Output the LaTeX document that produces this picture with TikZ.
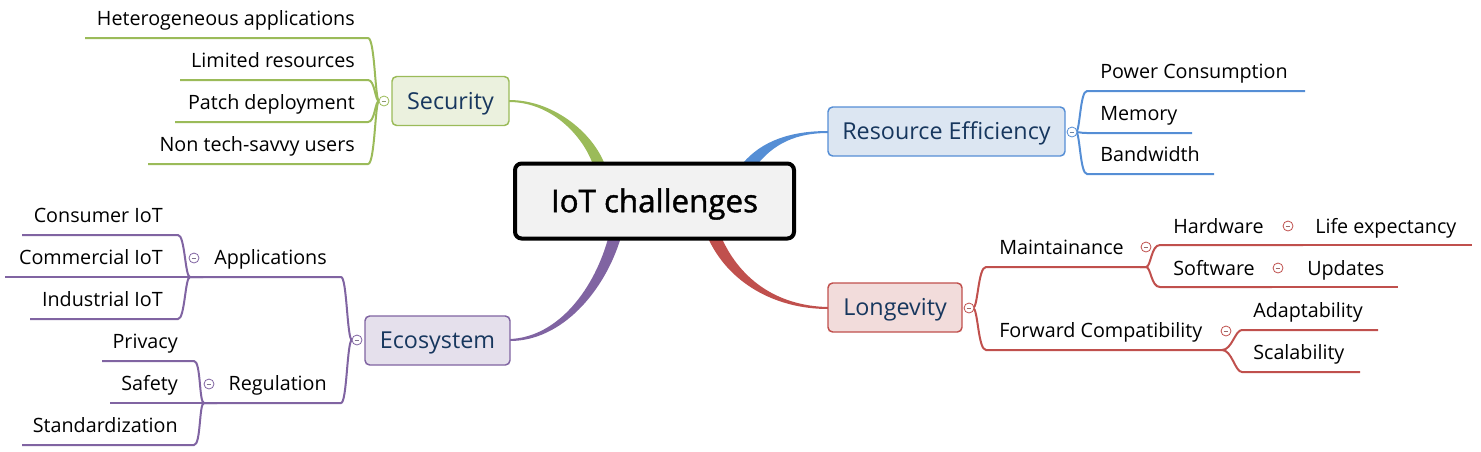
\documentclass[tikz,border=0pt]{standalone}
\usepackage{fontspec}
\setmainfont{Open Sans}
\newfontfamily\rootfont[FakeBold=1.3]{Open Sans}
\definecolor{gline}{HTML}{9BBB59}
\definecolor{gfill}{HTML}{EBF1DE}
\definecolor{bline}{HTML}{558ED5}
\definecolor{bfill}{HTML}{DCE6F2}
\definecolor{rline}{HTML}{C0504D}
\definecolor{rfill}{HTML}{F2DCDB}
\definecolor{pline}{HTML}{8064A2}
\definecolor{pfill}{HTML}{E5E0EC}
\definecolor{navy}{HTML}{17375E}
\definecolor{cfill}{HTML}{F2F2F2}
\tikzset{
 subtxt/.style={inner sep=0pt, font=\fontsize{14.8}{17}\selectfont},
 lt/.style={subtxt, anchor=base east},
 rt/.style={subtxt, anchor=base west},
 topic/.style={draw=#1line, fill=#1fill, line width=1.1pt, rounded corners=3.5pt, text=navy,
   font=\fontsize{17.5}{21}\selectfont, inner sep=0pt, text height=12.5pt, text depth=0pt,
   minimum height=49*0.75pt},
 br/.style={draw=#1, line width=1.5pt},
 tog/.style={circle, draw=#1, fill=white, line width=0.6pt, minimum size=7.5pt, inner sep=0pt,
   path picture={\draw[line width=0.6pt, color=#1!45!gray]
     ([xshift=-1.8pt]path picture bounding box.center) -- ([xshift=1.8pt]path picture bounding box.center);}},
}
\begin{document}
\begin{tikzpicture}[x=0.75pt,y=-0.75pt]
\useasboundingbox (0,0) rectangle (1481,451);

% ---------- thick main connectors ----------
\fill[gline] (509,100) .. controls (556,100) and (596,136) .. (606,168) -- (594,168)
   .. controls (586,140) and (554,102) .. (509,102) -- cycle;
\fill[bline] (828,131) .. controls (790,131) and (762,141) .. (743,163) -- (753,170)
   .. controls (769,148) and (790,133) .. (828,133) -- cycle;
\fill[rline] (828,307) .. controls (776,306) and (738,278) .. (720,234) -- (708,238)
   .. controls (728,282) and (774,309) .. (828,309) -- cycle;
\fill[pline] (510,339) .. controls (558,337) and (595,289) .. (609,235) -- (621,237)
   .. controls (605,291) and (562,341) .. (510,341) -- cycle;

% ---------- central topic ----------
\node[draw=black, line width=3pt, fill=cfill, rounded corners=5pt,
      minimum width=279*0.75pt, minimum height=75*0.75pt, inner sep=0pt,
      text height=16.8pt, text depth=0pt,
      font=\rootfont\fontsize{23.5}{28}\selectfont] (root) at (654.5,201) {IoT challenges};

% ---------- main topics ----------
\node[topic=g, minimum width=117*0.75pt] (sec) at (450.5,101) {Security};
\node[topic=b, minimum width=237*0.75pt] (res) at (946.5,131.5) {Resource Efficiency};
\node[topic=r, minimum width=134*0.75pt] (lon) at (895,307.5) {Longevity};
\node[topic=p, minimum width=145*0.75pt] (eco) at (437.5,340.5) {Ecosystem};

% ---------- Security ----------
\node[lt] (het) at (355,25) {Heterogeneous applications};
\node[lt] (lim) at (355,67) {Limited resources};
\node[lt] (pat) at (355,109) {Patch deployment};
\node[lt] (non) at (355,151) {Non tech-savvy users};
\coordinate (secJ) at (379,101);
\coordinate (hetA) at (368,38);  \coordinate (hetB) at (85,38);
\coordinate (limA) at (368,80);  \coordinate (limB) at (180,80);
\coordinate (patA) at (368,122); \coordinate (patB) at (175,122);
\coordinate (nonA) at (368,164); \coordinate (nonB) at (148,164);
\draw[br=gline] (secJ) .. controls +(-4,0) and +(7,0) .. (hetA) -- (hetB);
\draw[br=gline] (secJ) .. controls +(-4,0) and +(7,0) .. (limA) -- (limB);
\draw[br=gline] (secJ) .. controls +(-4,0) and +(7,0) .. (patA) -- (patB);
\draw[br=gline] (secJ) .. controls +(-4,0) and +(7,0) .. (nonA) -- (nonB);
\node[tog=gline] (secT) at (384,101) {};

% ---------- Resource Efficiency ----------
\node[rt] (pow) at (1100,78) {Power Consumption};
\node[rt] (mem) at (1100,120) {Memory};
\node[rt] (ban) at (1100,161) {Bandwidth};
\coordinate (resJ) at (1076,132);
\coordinate (powA) at (1087,91);  \coordinate (powB) at (1305,91);
\coordinate (memA) at (1087,133); \coordinate (memB) at (1192,133);
\coordinate (banA) at (1087,174); \coordinate (banB) at (1214,174);
\draw[br=bline] (resJ) .. controls +(4,0) and +(-7,0) .. (powA) -- (powB);
\draw[br=bline] (resJ) .. controls +(4,0) and +(-7,0) .. (memA) -- (memB);
\draw[br=bline] (resJ) .. controls +(4,0) and +(-7,0) .. (banA) -- (banB);
\node[tog=bline] (resT) at (1072,132) {};

% ---------- Longevity ----------
\node[rt] (mai) at (999,254) {Maintainance};
\node[rt] (fwd) at (999,337) {Forward Compatibility};
\coordinate (lonJ) at (973,308);
\coordinate (maiA) at (986,267); \coordinate (maiB) at (1140,267);
\coordinate (fwdA) at (986,350); \coordinate (fwdB) at (1222,350);
\draw[br=rline] (lonJ) .. controls +(5,0) and +(-8,0) .. (maiA) -- (maiB);
\draw[br=rline] (lonJ) .. controls +(5,0) and +(-8,0) .. (fwdA) -- (fwdB);
\node[tog=rline] (lonT) at (969,308) {};

\node[rt] (hw) at (1173,233) {Hardware};
\node[rt] (sw) at (1173,275) {Software};
\node[rt] (life) at (1315,233) {Life expectancy};
\node[rt] (upd) at (1307,275) {Updates};
\coordinate (hwA) at (1160,245); \coordinate (hwB) at (1303,245);
\coordinate (swA) at (1160,287); \coordinate (swB) at (1272,287);
\coordinate (lifeB) at (1472,245);
\coordinate (updB) at (1398,287);
\draw[br=rline] (maiB) -- ++(6,0) .. controls +(5,0) and +(-9,0) .. (hwA) -- (hwB);
\draw[br=rline] (maiB) -- ++(6,0) .. controls +(5,0) and +(-9,0) .. (swA) -- (swB);
\draw[br=rline] (hwB) -- (lifeB);
\draw[br=rline] (swB) -- (updB);
\node[tog=rline] (maiT) at (1146,247) {};
\node[tog=rline] (hwT) at (1288,226) {};
\node[tog=rline] (swT) at (1278,268) {};

\node[rt] (ada) at (1253,317) {Adaptability};
\node[rt] (sca) at (1253,359) {Scalability};
\coordinate (adaA) at (1242,330); \coordinate (adaB) at (1378,330);
\coordinate (scaA) at (1242,372); \coordinate (scaB) at (1360,372);
\draw[br=rline] (fwdB) .. controls +(10,0) and +(-7,0) .. (adaA) -- (adaB);
\draw[br=rline] (fwdB) .. controls +(10,0) and +(-7,0) .. (scaA) -- (scaB);
\node[tog=rline] (fwdT) at (1226,331) {};

% ---------- Ecosystem ----------
\node[lt] (app) at (327,264) {Applications};
\node[lt] (reg) at (327,390) {Regulation};
\coordinate (ecoJ) at (352,340);
\coordinate (appA) at (341,277); \coordinate (appB) at (203,277);
\coordinate (regA) at (341,403); \coordinate (regB) at (217,403);
\draw[br=pline] (ecoJ) .. controls +(-5,0) and +(6,0) .. (appA) -- (appB);
\draw[br=pline] (ecoJ) .. controls +(-5,0) and +(6,0) .. (regA) -- (regB);
\node[tog=pline] (ecoT) at (357,340) {};

\node[lt] (con) at (163,222) {Consumer IoT};
\node[lt] (com) at (163,264) {Commercial IoT};
\node[lt] (ind) at (163,306) {Industrial IoT};
\coordinate (conA) at (178,235); \coordinate (conB) at (22,235);
\coordinate (comA) at (178,277); \coordinate (comB) at (5,277);
\coordinate (indA) at (178,319); \coordinate (indB) at (30,319);
\draw[br=pline] (appB) -- ++(-13,0) .. controls +(-5,0) and +(7,0) .. (conA) -- (conB);
\draw[br=pline] (appB) -- (comA) -- (comB);
\draw[br=pline] (appB) -- ++(-13,0) .. controls +(-5,0) and +(7,0) .. (indA) -- (indB);
\node[tog=pline] (appT) at (194,258) {};

\node[lt] (pri) at (178,348) {Privacy};
\node[lt] (saf) at (178,390) {Safety};
\node[lt] (sta) at (178,432) {Standardization};
\coordinate (priA) at (194,361); \coordinate (priB) at (102,361);
\coordinate (safA) at (194,403); \coordinate (safB) at (110,403);
\coordinate (staA) at (194,445); \coordinate (staB) at (22,445);
\draw[br=pline] (regB) -- ++(-13,0) .. controls +(-5,0) and +(7,0) .. (priA) -- (priB);
\draw[br=pline] (regB) -- (safA) -- (safB);
\draw[br=pline] (regB) -- ++(-13,0) .. controls +(-5,0) and +(7,0) .. (staA) -- (staB);
\node[tog=pline] (regT) at (209,384) {};
\end{tikzpicture}
\end{document}
